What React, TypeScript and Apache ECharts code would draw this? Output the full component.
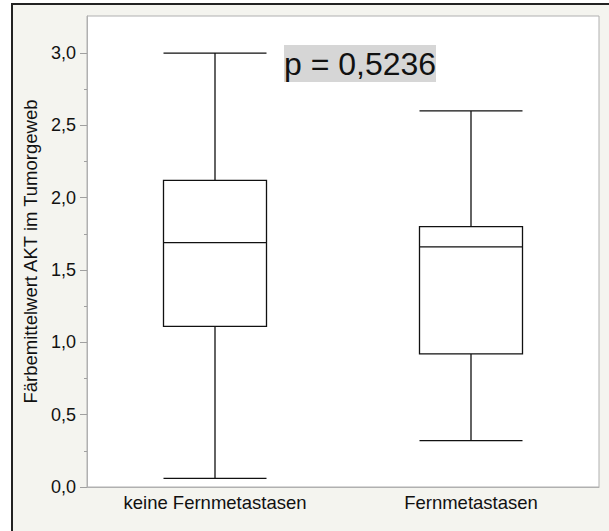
import React, { useEffect, useRef } from "react";
import * as echarts from "echarts";

const categories = ["keine Fernmetastasen", "Fernmetastasen"];
// [min, Q1, median, Q3, max]
const boxKeine = [0.06, 1.11, 1.69, 2.12, 3.0];
const boxFern = [0.32, 0.92, 1.66, 1.8, 2.6];
const majorTicks = [0, 0.5, 1.0, 1.5, 2.0, 2.5, 3.0];
const minorTicks = [0.25, 0.75, 1.25, 1.75, 2.25, 2.75];
const yAxisTitle = "Färbemittelwert AKT im Tumorgeweb";
const pText = "p = 0,5236";

const FONT = "'Liberation Sans', Arial, Helvetica, sans-serif";

export default function App() {
  const ref = useRef<HTMLDivElement>(null);
  useEffect(() => {
    document.body.style.margin = "0";
    const chart = echarts.init(ref.current!, null, { renderer: "svg" });
    chart.setOption({
      animation: false,
      backgroundColor: "transparent",
      textStyle: { fontFamily: FONT },
      grid: {
        left: 87,
        top: 16,
        right: 10,
        bottom: 44,
        show: true,
        backgroundColor: "#ffffff",
        borderColor: "#b0b0b0",
        borderWidth: 1,
      },
      xAxis: {
        type: "category",
        data: categories,
        boundaryGap: true,
        axisLine: { show: true, lineStyle: { color: "#b0b0b0" } },
        axisTick: { show: false },
        axisLabel: { color: "#111", fontSize: 18.5, fontFamily: FONT, margin: 6 },
        splitLine: { show: false },
      },
      yAxis: [
        {
          type: "value",
          min: 0,
          max: 3.256,
          name: yAxisTitle,
          nameLocation: "middle",
          nameGap: 46,
          nameRotate: 90,
          nameTextStyle: { color: "#111", fontSize: 18.5, fontFamily: FONT },
          axisLine: { show: true, lineStyle: { color: "#b0b0b0" } },
          axisTick: {
            show: true,
            customValues: majorTicks,
            length: 7,
            lineStyle: { color: "#a0a0a0" },
          },
          axisLabel: {
            customValues: majorTicks,
            color: "#111",
            fontSize: 18,
            fontFamily: FONT,
            margin: 11,
            formatter: (v: number) => v.toFixed(1).replace(".", ","),
          },
          splitLine: { show: false },
        },
        {
          type: "value",
          min: 0,
          max: 3.256,
          position: "left",
          axisLine: { show: false },
          axisTick: {
            show: true,
            customValues: minorTicks,
            length: 3,
            lineStyle: { color: "#a0a0a0" },
          },
          axisLabel: { show: false },
          splitLine: { show: false },
        },
      ],
      series: [
        {
          type: "boxplot",
          yAxisIndex: 0,
          data: [boxKeine, boxFern],
          boxWidth: [103, 103],
          itemStyle: { color: "#ffffff", borderColor: "#111", borderWidth: 1.3 },
          emphasis: { disabled: true },
        },
      ],
      graphic: [
        {
          type: "rect",
          shape: { x: 284, y: 45, width: 152, height: 37 },
          style: { fill: "#d6d6d6" },
          z: 100,
        },
        {
          type: "text",
          x: 284,
          y: 64,
          style: {
            text: pText,
            fontSize: 32,
            fontFamily: FONT,
            fill: "#111",
            verticalAlign: "middle",
          },
          z: 101,
        },
      ],
    });
    return () => chart.dispose();
  }, []);
  return (
    <div style={{ position: "relative", width: 609, height: 531, overflow: "hidden", background: "#fff" }}>
      <div
        style={{
          position: "absolute",
          left: 11,
          top: 3,
          width: 700,
          height: 700,
          background: "#f4f4ef",
          border: "2px solid #222",
        }}
      />
      <div ref={ref} style={{ position: "absolute", left: 0, top: 0, width: 609, height: 531 }} />
    </div>
  );
}
